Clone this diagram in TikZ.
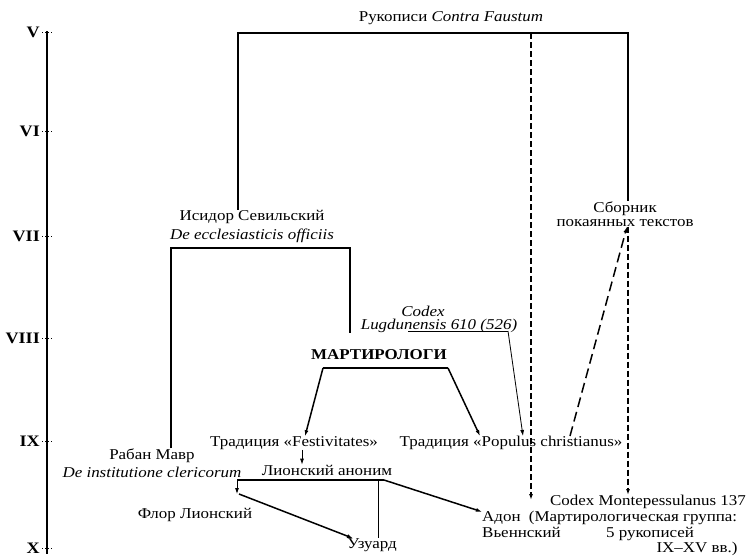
\documentclass[tikz,border=0pt]{standalone}
\usepackage{fontspec}
\setmainfont{Liberation Serif}[FakeStretch=1.13]
\usetikzlibrary{arrows.meta}
\begin{document}
\begin{tikzpicture}[x=1pt,y=-1pt,
  txt/.style={inner sep=0pt, font=\fontsize{15}{18}\selectfont, align=center},
  era/.style={inner sep=0pt, font=\fontsize{16}{18}\selectfont\bfseries, anchor=east},
  ln/.style={line width=1.5pt},
  axisln/.style={line width=2.6pt},
  thinln/.style={line width=0.8pt},
  arr/.style={-{Latex[length=6pt,width=4pt]}},
  dsh/.style={line width=1.3pt, dash pattern=on 6pt off 3pt},
  dshb/.style={line width=1.5pt, dash pattern=on 10pt off 5pt},
  tick/.style={line width=1pt, dotted}
]
\useasboundingbox (0,0) rectangle (754,558);

% time axis
\coordinate (axT) at (47,31);
\coordinate (axB) at (47,554);
\draw[axisln] (axT) -- (axB);
\foreach \lab/\yy in {V/32,VI/131,VII/236,VIII/338,IX/441,X/548}{
  \node[era] (era\lab) at (40,\yy) {\lab};
  \draw[tick] (42,\yy) -- (52,\yy);
}

% text nodes
\node[txt] (title) at (451,18) {Рукописи \textit{Contra Faustum}};
\node[txt, font=\fontsize{15}{19}\selectfont] (isidor) at (252,226) {Исидор Севильский\\\textit{De ecclesiasticis officiis}};
\node[txt, font=\fontsize{15}{14}\selectfont] (sborn) at (625,214) {Сборник\\покаянных текстов};
\node[txt] (codexA) at (423,311) {\textit{Codex}};
\node[txt] (codexB) at (439,326) {\textit{Lugdunensis 610 (526)}};
\node[txt, font=\fontsize{15}{18}\selectfont\bfseries] (mart) at (379,355) {МАРТИРОЛОГИ};
\node[txt] (fest) at (294,443) {Традиция «Festivitates»};
\node[txt] (popul) at (511,443) {Традиция «Populus christianus»};
\node[txt] (lion) at (327,470) {Лионский аноним};
\node[txt] (rab) at (152,463) {Рабан Мавр\\\textit{De institutione clericorum}};
\node[txt] (flor) at (195,515) {Флор Лионский};
\node[txt] (uzu) at (372,545) {Узуард};
\node[txt, font=\fontsize{15}{16}\selectfont, align=left, anchor=west] (adon) at (482,525) {Адон\\Вьеннский};
\node[txt] (mont1) at (648,502) {Codex Montepessulanus 137};
\node[txt] (mont2) at (633,518) {(Мартирологическая группа:};
\node[txt] (mont3) at (650,534) {5 рукописей};
\node[txt] (mont4) at (697,549) {IX–XV вв.)};

% top bracket
\coordinate (tL) at (238,33);
\coordinate (tR) at (628,33);
\coordinate (tD) at (531,33);
\draw[ln] (tL |- isidor.north) -- (tL) -- (tR) -- (tR |- sborn.north);
\coordinate (dEnd) at (531,500);
\draw[dsh, arr] (tD) -- (dEnd);
\draw[dsh, arr] (sborn.south -| tR) -- (mont1.north -| tR);
\draw[dshb, arr] ([xshift=59pt]popul.north) -- ([xshift=2pt]sborn.south);

% Isidor bracket
\coordinate (iL) at (171,248);
\coordinate (iR) at (350,248);
\draw[ln] (iL |- rab.north) -- (iL) -- (iR) -- (iR |- codexB.south);

% Codex Lugdunensis
\coordinate (cu1) at (408,331);
\coordinate (cu2) at (508,331);
\draw[thinln] (cu1) -- (cu2);
\draw[thinln, arr] (cu2) -- ([xshift=12pt]popul.north);

% Martyrologies
\coordinate (mL) at (323,368);
\coordinate (mR) at (448,368);
\draw[ln] (mL) -- (mR);
\draw[ln, arr] (mL) -- ([xshift=11pt]fest.north);
\draw[ln, arr] (mR) -- ([xshift=-31pt]popul.north);
\draw[thinln, arr] (fest.south -| 302,0) -- (lion.north -| 302,0);

% Lyon anonymous
\coordinate (lL) at (237,480);
\coordinate (lM) at (378,480);
\coordinate (lR) at (384,480);
\coordinate (fA) at (237,494);
\draw[ln] (lL) -- (lR);
\draw[thinln, arr] (lL) -- (fA);
\draw[ln, arr] ([xshift=2pt]fA) -- ([xshift=-19pt]uzu.north);
\draw[thinln] (lM) -- (lM |- uzu.north);
\draw[ln, arr] (lR) -- (adon.north west);
\end{tikzpicture}
\end{document}
